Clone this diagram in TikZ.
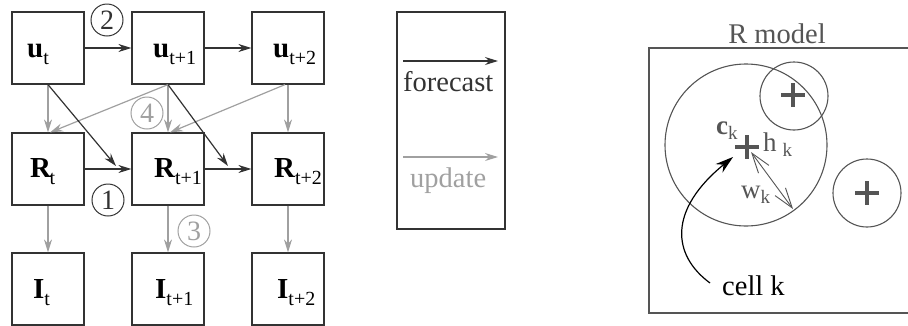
\documentclass[tikz,border=0pt]{standalone}
\usepackage{fontspec}
\setmainfont{Liberation Serif}
\usetikzlibrary{arrows.meta}
\definecolor{dk}{HTML}{333333}
\definecolor{lg}{HTML}{A0A0A0}
\definecolor{md}{HTML}{555555}
\newcommand{\blbl}[2]{{\bfseries #1}\raisebox{-7pt}{\fontsize{20}{20}\selectfont\mdseries #2}}
\newcommand{\slbl}[2]{#1\raisebox{-5pt}{\fontsize{19}{19}\selectfont\mdseries #2}}
\begin{document}
\begin{tikzpicture}[x=1pt,y=-1pt,
  box/.style={draw=dk, line width=1.2pt, minimum width=72pt, minimum height=72pt, inner sep=0pt},
  fc/.style={draw=dk, line width=1.2pt, -{Stealth[length=13pt,width=8pt]}},
  up/.style={draw=lg, line width=1.2pt, -{Stealth[length=13pt,width=8pt]}},
  num/.style={circle, line width=1pt, minimum size=32pt, inner sep=0pt, font=\fontsize{28}{28}\selectfont},
  lab/.style={anchor=base west, inner sep=0pt, text=black, font=\fontsize{29}{30}\selectfont},
  txt/.style={anchor=base west, inner sep=0pt, font=\fontsize{28.5}{30}\selectfont},
  sml/.style={anchor=base west, inner sep=0pt, text=md, font=\fontsize{27}{28}\selectfont},
  ring/.style={draw=md, line width=1.1pt},
  crossst/.style={draw=md, line width=3.5pt},
]
\useasboundingbox (0,0) rectangle (908,325);
% grid boxes
\node[box] (ut)  at (48,48) {};
\node[box] (ut1) at (168,48) {};
\node[box] (ut2) at (288,48) {};
\node[box] (Rt)  at (48,169) {};
\node[box] (Rt1) at (168,169) {};
\node[box] (Rt2) at (288,169) {};
\node[box] (It)  at (48,289) {};
\node[box] (It1) at (168,289) {};
\node[box] (It2) at (288,289) {};
% labels
\node[lab] (lut)  at (27,57)  {\blbl{u}{t}};
\node[lab] (lut1) at (153,57) {\blbl{u}{t+1}};
\node[lab] (lut2) at (273,57) {\blbl{u}{t+2}};
\node[lab] (lRt)  at (30,177) {\blbl{R}{\kern-1.5pt t}};
\node[lab] (lRt1) at (154,177) {\blbl{R}{t+1}};
\node[lab] (lRt2) at (274,177) {\blbl{R}{t+2}};
\node[lab] (lIt)  at (33,298) {\blbl{I}{t}};
\node[lab] (lIt1) at (155,298) {\blbl{I}{t+1}};
\node[lab] (lIt2) at (277,298) {\blbl{I}{t+2}};
% update arrows
\draw[up] (ut.south) -- (Rt.north);
\draw[up] (ut1.south) -- ([xshift=2pt]Rt.north);
\draw[up] (ut1.south) -- (Rt1.north);
\draw[up] ([xshift=-3pt]ut2.south) -- ([xshift=2pt]Rt1.north);
\draw[up] (ut2.south) -- (Rt2.north);
\draw[up] (Rt.south) -- (It.north);
\draw[up] (Rt1.south) -- (It1.north);
\draw[up] (Rt2.south) -- (It2.north);
% forecast arrows
\coordinate (d1) at (116,166);
\coordinate (d2) at (228,166);
\draw[fc] (ut) -- (ut1);
\draw[fc] (ut1) -- (ut2);
\draw[fc] (Rt) -- (Rt1);
\draw[fc] (Rt1) -- (Rt2);
\draw[fc] (ut.south) -- (d1);
\draw[fc] (ut1.south) -- (d2);
% circled numbers
\node[num, draw=dk, text=dk] (n2) at (107,20) {2};
\node[num, draw=dk, text=dk] (n1) at (108,200) {1};
\node[num, draw=lg, text=lg] (n3) at (194,231) {3};
\node[num, draw=lg, text=lg] (n4) at (147,113) {4};
% legend
\node[draw=dk, line width=1.2pt, minimum width=108pt, minimum height=217pt, inner sep=0pt] (leg) at (451,120.5) {};
\coordinate (lf1) at (403,61);
\coordinate (lf2) at (498,61);
\coordinate (lu1) at (403,157);
\coordinate (lu2) at (498,157);
\draw[fc] (lf1) -- (lf2);
\draw[up] (lu1) -- (lu2);
\node[txt, text=dk] (ftx) at (403,91) {forecast};
\node[txt, text=lg] (utx) at (410,187) {update};
% R model panel
\node[anchor=base, inner sep=0pt, text=md, font=\fontsize{28.5}{30}\selectfont] (rm) at (777,43) {R model};
\draw[draw=md, line width=1.2pt] (649,48) rectangle (915,313);
\draw[ring] (746,145) circle[radius=81pt];
\draw[ring] (794,96) circle[radius=34pt];
\draw[ring] (867,193) circle[radius=34pt];
\draw[crossst] (747,147) ++(-12,0) -- ++(24,0) ++(-12,-12) -- ++(0,24);
\draw[crossst] (793,95) ++(-12,0) -- ++(24,0) ++(-12,-12) -- ++(0,24);
\draw[crossst] (867,193) ++(-12,0) -- ++(24,0) ++(-12,-12) -- ++(0,24);
\coordinate (wa) at (751,152);
\coordinate (wb) at (793,209);
\draw[draw=md, line width=0.9pt, {Straight Barb[length=20pt,width=13pt]}-{Straight Barb[length=20pt,width=13pt]}] (wa) -- (wb);
\node[sml] (ck) at (716,134) {\slbl{\bfseries c}{k}};
\node[sml] (hk) at (763,151) {\slbl{h}{\kern6pt k}};
\node[sml] (wk) at (741,198) {\slbl{w}{k}};
\node[txt, text=black] (cell) at (722,295) {cell k};
\coordinate (cs) at (710,283);
\coordinate (ce) at (733,157);
\draw[black, line width=1.2pt, -{Stealth[length=18pt,width=11pt]}] (cs) .. controls (672,255) and (668,210) .. (ce);
\end{tikzpicture}
\end{document}
